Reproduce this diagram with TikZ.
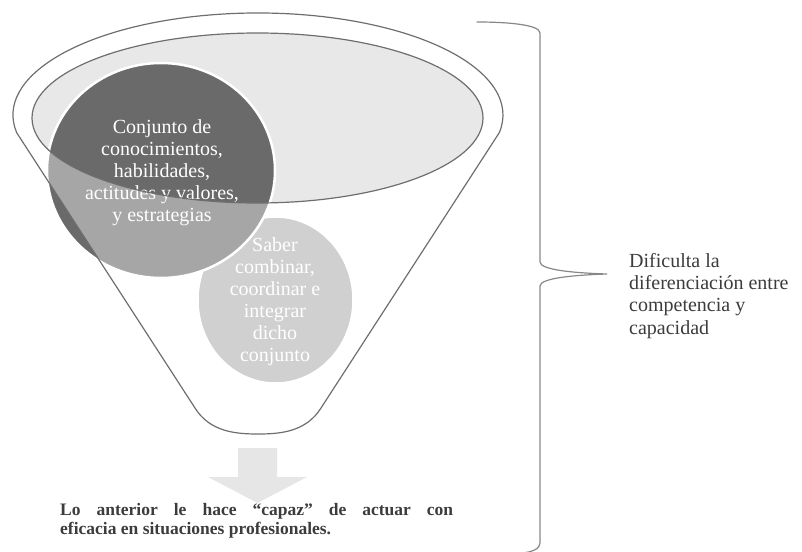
\documentclass[tikz,border=0pt]{standalone}
\usepackage{fontspec}
\setmainfont{Liberation Serif}
\usetikzlibrary{shapes.geometric}
\definecolor{innerfill}{HTML}{E8E8E8}
\definecolor{darkfill}{HTML}{6A6A6A}
\definecolor{midfill}{HTML}{A6A6A6}
\definecolor{lightfill}{HTML}{D0D0D0}
\definecolor{arrowfill}{HTML}{E6E6E6}
\definecolor{outline}{HTML}{6E6E6E}
\definecolor{bracecol}{HTML}{888888}
\definecolor{textdark}{HTML}{3C3C3C}
\tikzset{
  funnelline/.style={draw=outline, line width=1.2pt, line join=round},
  bracestyle/.style={draw=bracecol, line width=1.2pt, line cap=round},
  circtext/.style={inner sep=0pt, align=center, text=white,
    font=\fontsize{20}{22}\selectfont},
  sidetext/.style={inner sep=0pt, align=left, text=textdark, anchor=north west,
    font=\fontsize{20}{22.3}\selectfont},
  bottomtext/.style={inner sep=0pt, text width=393pt, align=justify, text=textdark,
    anchor=north west, font=\fontsize{17.5}{18.5}\selectfont\bfseries},
}
\begin{document}
\begin{tikzpicture}[x=1pt, y=1pt, yscale=-1]
\useasboundingbox (0,0) rectangle (802,551);
% inner ellipse fill
\fill[innerfill] (257.5,118) ellipse [x radius=225.5, y radius=85];
% light circle
\fill[lightfill, draw=white, line width=1.5pt] (275.5,300) ellipse [x radius=77.5, y radius=83];
% dark circle
\fill[darkfill] (161,170.5) ellipse [x radius=114, y radius=107.5];
\begin{scope}
  \clip (161,170.5) ellipse [x radius=114, y radius=107.5];
  \fill[midfill, even odd rule]
    (16.7,132.7) arc[start angle=170, end angle=370, x radius=245, y radius=102]
    -- (321,408) .. controls (306,432) and (280,434) .. (258,434)
    .. controls (236,434) and (210,432) .. (195,408) -- cycle
    (257.5,118) ellipse [x radius=225.5, y radius=85];
\end{scope}
\draw[white, line width=2.5pt] (161,170.5) ellipse [x radius=114, y radius=107.5];
% texts in circles
\node[circtext] (conj) at (162,173) {Conjunto de\\conocimientos,\\habilidades,\\actitudes y valores,\\y estrategias};
\node[circtext] (saber) at (275,302) {Saber\\combinar,\\coordinar e\\integrar\\dicho\\conjunto};
% funnel outline
\draw[funnelline]
    (16.7,132.7) arc[start angle=170, end angle=370, x radius=245, y radius=102]
    -- (321,408) .. controls (306,432) and (280,434) .. (258,434)
    .. controls (236,434) and (210,432) .. (195,408) -- cycle;
\draw[funnelline] (257.5,118) ellipse [x radius=225.5, y radius=85];
% arrow
\fill[arrowfill] (238,448) -- (277,448) -- (277,477) -- (307,477) -- (257.5,503)
  -- (208,477) -- (238,477) -- cycle;
% bottom text
\node[bottomtext] (capaz) at (60,503.3) {Lo anterior le hace “capaz” de actuar con\linebreak eficacia en situaciones profesionales.};
% brace
\coordinate (btop) at (477,22);
\coordinate (btip) at (607,274);
\coordinate (bbot) at (522,553);
\draw[bracestyle] (btop) .. controls (510,22) and (540,25) .. (540,33) -- (540,262)
  .. controls (540,270) and (575,273) .. (btip)
  .. controls (575,275) and (540,278) .. (540,286) -- (540,543)
  .. controls (540,549) and (532,552) .. (bbot);
% side text
\node[sidetext] (dif) at (629,253) {Dificulta la\\diferenciación entre\\competencia y\\capacidad};
\end{tikzpicture}
\end{document}
